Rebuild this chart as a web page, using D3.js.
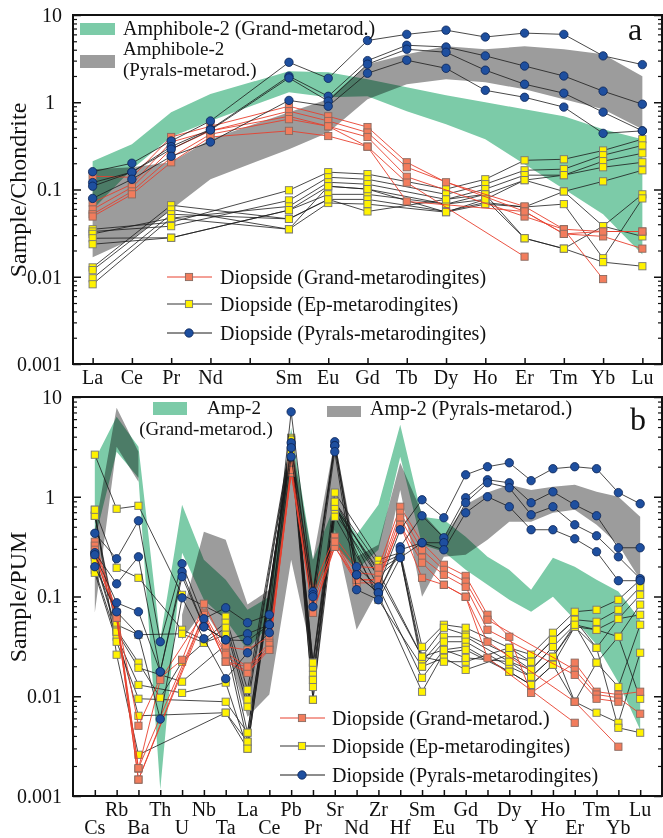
<!DOCTYPE html>
<html><head><meta charset="utf-8">
<script src="https://cdn.jsdelivr.net/npm/d3@7/dist/d3.min.js"></script>
<style>
body{margin:0;background:#fff}
text{font-family:"Liberation Serif","Times New Roman",serif;fill:#111}
</style>
</head><body>
<svg id="chart" width="663" height="838"></svg>
<script>
// ---------------- Panel a : chondrite-normalised REE ----------------
const axisElementsA = ["La","Ce","Pr","Nd","Pm","Sm","Eu","Gd","Tb","Dy","Ho","Er","Tm","Yb","Lu"];
const elementsA = ["La","Ce","Pr","Nd","Sm","Eu","Gd","Tb","Dy","Ho","Er","Tm","Yb","Lu"];
const yTicks = [0.001, 0.01, 0.1, 1, 10];

const pyralsA = [
  [0.16,0.20,0.36,0.61,2.87,1.88,5.1,6.0,6.7,5.6,6.2,6.0,3.4,2.7],
  [0.12,0.158,0.31,0.49,1.99,1.17,3.0,4.5,4.3,3.4,2.6,2.0,1.34,0.95],
  [0.109,0.158,0.29,0.48,1.9,1.03,2.73,4.05,3.74,2.33,1.61,1.27,0.77,0.47],
  [0.079,0.131,0.24,0.35,1.05,0.90,2.15,3.03,2.45,1.37,1.14,0.88,0.44,0.47]
];
const grandA = [
  [0.142,0.138,0.40,0.53,0.90,0.69,0.52,0.205,0.121,null,0.064,0.035,0.033,0.033],
  [0.071,0.115,0.35,0.47,0.79,0.61,0.45,0.18,null,null,0.056,0.031,0.029,0.021],
  [0.059,0.106,0.29,0.47,0.69,0.53,0.40,0.14,null,null,0.049,0.035,0.0094,null],
  [0.052,0.095,0.234,0.43,0.64,0.53,0.31,0.12,null,null,0.017,null,null,null],
  [0.049,0.088,0.205,0.40,0.47,0.41,0.31,0.073,null,null,0.056,0.031,0.033,0.033]
];
const epA = [
  [0.035,null,0.042,null,0.098,0.158,0.150,null,0.101,0.131,0.216,0.222,0.28,0.377],
  [0.033,null,0.038,null,0.075,0.138,0.131,null,0.088,0.115,0.166,0.171,0.247,0.32],
  [0.031,null,0.047,null,0.064,0.121,0.115,null,0.077,0.101,0.146,0.146,0.211,0.26],
  [0.0276,null,0.028,null,0.058,0.109,0.101,null,0.068,0.088,0.128,0.146,0.18,0.205],
  [0.0236,null,0.028,null,0.058,0.088,0.088,null,0.068,0.077,0.128,0.095,0.124,0.166],
  [0.0128,null,0.066,null,0.046,0.077,0.077,null,0.056,0.071,0.063,0.095,0.038,0.088],
  [0.0119,null,0.059,null,0.035,0.070,0.068,null,0.055,0.068,0.063,0.068,0.0163,0.079],
  [0.0096,null,0.052,null,0.046,0.077,0.056,null,0.077,0.088,0.0276,0.021,0.0147,0.0132],
  [0.0082,null,0.047,null,0.035,0.109,0.101,null,0.055,0.077,0.0276,0.021,0.038,0.029]
];
const amphGrandA_hi = [0.211,0.33,0.77,1.24,2.27,2.21,1.83,1.49,1.20,1.0,0.83,0.69,0.49,0.377];
const amphGrandA_lo = [0.059,0.171,0.40,0.61,1.30,1.14,1.17,0.79,0.56,0.377,0.195,0.101,0.052,0.018];
const amphPyralsA_hi = [0.171,0.18,0.205,0.377,0.77,1.08,2.73,3.55,4.38,4.05,4.38,4.05,3.55,1.99];
const amphPyralsA_lo = [0.0167,0.0269,0.059,0.131,0.29,0.45,1.08,1.61,1.83,1.69,1.41,1.08,0.83,0.49];

// ---------------- Panel b : PUM-normalised trace elements ----------------
const elementsB = ["Cs","Rb","Ba","Th","U","Nb","Ta","La","Ce","Pb","Pr","Sr","Nd","Zr","Hf","Sm","Eu","Gd","Tb","Dy","Y","Ho","Er","Tm","Yb","Lu"];
const pyralsB = [
  [0.43,0.239,0.574,0.0352,0.213,0.0598,0.0771,0.0546,0.0656,7.1,0.112,3.56,0.199,0.125,0.467,0.933,0.616,1.66,2.0,2.19,1.45,1.91,2.0,1.91,1.10,0.851],
  [0.275,0.134,0.25,0.0176,0.177,0.0497,0.0368,0.0423,0.0521,3.48,0.104,3.25,0.165,0.109,0.315,0.645,0.388,0.977,1.48,1.38,0.871,1.12,0.831,0.645,0.308,0.308],
  [0.262,0.0866,0.0703,0.0176,0.158,0.0497,0.0368,0.036,0.0521,3.10,0.0994,3.25,0.165,0.109,0.294,0.346,0.346,0.871,1.38,1.23,0.66,0.794,0.524,0.406,0.25,0.151],
  [0.199,0.0703,0.0414,0.0059,0.097,0.0377,0.015,0.0273,0.0433,2.52,0.0789,2.83,0.117,0.0927,0.245,0.346,0.294,0.691,1.0,0.794,0.467,0.467,0.379,0.281,0.144,0.144]
];
const grandB = [
  [0.354,0.0687,0.00506,0.0153,0.0232,0.0846,0.0313,0.0292,0.0395,2.09,0.122,0.397,0.199,0.194,0.794,0.346,0.208,0.161,0.0656,0.0395,0.0108,null,0.0217,0.0111,0.0104,0.0111],
  [0.323,0.0687,0.00188,0.0146,null,0.0687,0.0273,0.0198,0.0344,1.86,0.0994,0.354,0.173,0.165,0.691,0.294,0.185,0.141,0.0585,null,null,null,0.0184,0.0104,0.00966,0.00668],
  [0.294,0.0612,0.00146,null,null,0.0598,0.0261,0.0172,0.0328,1.74,0.0866,0.315,0.147,0.147,0.616,0.245,0.165,0.125,0.0464,null,null,null,0.0164,0.00944,0.00881,null],
  [0.262,0.0612,0.00146,null,null,0.0656,0.0222,0.0172,0.0292,1.74,0.0687,0.315,0.137,0.137,0.524,0.218,0.131,0.0994,0.0352,null,null,null,0.00881,null,0.00312,null],
  [0.262,0.0612,0.0019,null,null,0.0656,0.0222,0.0198,0.0292,1.86,0.0687,0.354,0.147,0.147,0.524,0.154,0.131,0.0994,0.0243,null,null,null,0.00542,null,null,null]
];
const epB = [
  [2.64,0.758,0.812,null,0.104,null,0.0627,0.0116,null,3.90,0.0217,1.10,null,0.233,0.275,0.0313,0.0521,0.0486,null,0.0306,0.0261,0.0433,0.0703,0.0736,0.0927,0.147],
  [0.741,0.194,0.154,null,0.0464,0.0368,0.0546,0.00923,null,3.73,0.0193,0.891,null,0.208,0.262,0.0249,0.0486,0.0414,null,0.0261,0.0222,0.0368,0.0585,0.0558,0.0736,0.125],
  [0.645,0.0521,0.0414,null,0.0423,0.0344,0.0486,0.00785,null,3.56,0.0164,0.794,null,0.185,0.25,0.0222,0.0395,0.0395,null,0.0222,0.0184,0.0313,0.0521,0.0464,0.0598,0.104],
  [0.25,0.0464,0.0217,0.00966,0.0222,0.0344,0.0414,0.00431,null,3.32,0.0146,0.691,null,0.158,0.25,0.0198,0.0352,0.0352,null,0.0198,0.0157,0.0249,0.0497,0.0464,0.0395,0.0829],
  [0.233,0.0444,0.0193,null,0.014,null,0.0328,0.0035,null,3.17,0.0124,0.794,null,0.125,null,0.0153,0.0292,0.0313,null,0.0176,0.013,0.0207,0.0497,0.0306,0.0598,0.0656],
  [0.185,0.0395,0.013,null,0.0108,null,0.0137,0.00298,null,2.96,0.00923,0.63,null,0.104,null,0.0111,0.0273,0.0292,null,0.0176,0.013,0.0207,0.00881,0.0217,0.0124,0.0521],
  [0.173,0.0352,0.00944,null,null,null,0.00881,0.00431,null,3.17,0.0217,0.831,null,0.0927,null,0.0198,0.0243,0.0184,null,0.0261,0.0184,0.0313,0.00881,0.00684,0.00542,0.0273],
  [0.645,0.0444,0.00637,null,null,null,0.00684,0.0035,null,3.56,0.0146,0.794,null,0.177,null,0.0249,0.0222,0.0222,null,0.0306,0.0222,0.0368,0.0585,0.0306,0.00483,0.00431],
  [0.741,0.0261,0.00259,null,null,null,0.00684,0.00298,null,3.73,0.00923,0.891,null,0.158,null,0.0249,0.0292,0.0243,null,0.0222,0.0157,0.0249,0.0521,0.0217,0.0395,0.00944]
];
const ampGrandB_hi = [2.35,6.34,3.17,0.037,0.831,0.233,0.147,0.0736,0.0994,4.92,0.233,0.831,0.416,0.831,5.27,0.63,0.588,0.397,0.25,0.185,0.117,0.245,0.199,0.147,0.112,0.0585];
const ampGrandB_lo = [0.371,2.83,1.55,0.00116,0.275,0.0927,0.0585,0.0292,0.0521,1.86,0.0927,0.33,0.185,0.294,2.52,0.33,0.281,0.185,0.131,0.0927,0.0703,0.0994,0.0585,0.0328,0.0137,0.00461];
const ampPyralsB_hi = [0.467,7.8,2.83,null,0.0656,0.446,0.371,0.0829,0.117,3.73,0.233,3.73,0.25,0.33,2.19,0.691,0.397,0.831,1.10,1.32,1.17,1.26,1.32,1.12,1.0,0.63];
const ampPyralsB_lo = [0.0687,3.17,1.41,null,0.0368,0.0736,0.0328,0.00622,0.0104,0.233,0.0232,0.467,0.0464,0.117,1.17,0.0994,0.25,0.262,0.371,0.561,0.561,0.691,0.741,0.524,0.33,0.147];

// ---------------- styles ----------------
const C = {
  green:"#7ccba8", gray:"#9c9c9c",
  redLine:"#e8402e", redFill:"#f27c5c", redStroke:"#8a6a60",
  yelFill:"#fff200", yelStroke:"#777",
  blueFill:"#1e4f9f", blueStroke:"#0b2457",
  black:"#1a1a1a"
};

const svg = d3.select("#chart");
const L = 73, R = 662;

function minorTicks(){
  const out=[];
  [0.001,0.01,0.1,1].forEach(d=>{for(let k=2;k<=9;k++) out.push(d*k);});
  return out;
}

function drawPanel(o){
  const g = svg.append("g");
  const x = d3.scalePoint().domain(o.axisElements).range([L,R]).padding(o.pad);
  const y = d3.scaleLog().domain([0.001,10]).range([o.bottom,o.top]);

  // bands
  const bandG = g.append("g").style("isolation","isolate");
  o.bands.forEach(b=>{
    const pts = o.elements.map((e,i)=>({e, lo:b.lo[i], hi:b.hi[i]}));
    const area = d3.area().defined(d=>d.lo!=null && d.hi!=null)
      .x(d=>x(d.e)).y0(d=>y(d.lo)).y1(d=>y(d.hi));
    bandG.append("path").attr("d",area(pts)).attr("fill",b.color)
      .style("mix-blend-mode","multiply");
  });

  // series
  const line = d3.line().x(d=>x(d.e)).y(d=>y(d.v));
  o.groups.forEach(grp=>{
    const gg = g.append("g");
    grp.data.forEach(row=>{
      const pts = o.elements.map((e,i)=>({e,v:row[i]})).filter(d=>d.v!=null);
      gg.append("path").attr("d",line(pts)).attr("fill","none")
        .attr("stroke",grp.line).attr("stroke-width",grp.lw);
    });
    grp.data.forEach(row=>{
      const pts = o.elements.map((e,i)=>({e,v:row[i]})).filter(d=>d.v!=null);
      pts.forEach(d=>drawMarker(gg, grp.marker, x(d.e), y(d.v)));
    });
  });

  // axes: left (inward ticks)
  const yMajLeft = d3.axisLeft(y).tickValues(yTicks).tickSizeInner(-8).tickSizeOuter(0)
    .tickPadding(11).tickFormat(d=>String(d));
  const ax1 = g.append("g").attr("transform",`translate(${L},0)`).call(yMajLeft);
  ax1.select(".domain").remove();
  ax1.attr("font-family",null);
  ax1.selectAll("text").style("font-size","20px").attr("fill","#111");
  ax1.selectAll("text").filter(d=>d===1).attr("dx",-7);
  ax1.selectAll("line").attr("stroke","#111").attr("stroke-width",1.5);
  const yMinLeft = d3.axisLeft(y).tickValues(minorTicks()).tickSizeInner(-4).tickSizeOuter(0).tickFormat("");
  const ax2 = g.append("g").attr("transform",`translate(${L},0)`).call(yMinLeft);
  ax2.select(".domain").remove();
  ax2.selectAll("line").attr("stroke","#111").attr("stroke-width",1.2);
  // right
  const yMajR = d3.axisRight(y).tickValues(yTicks).tickSizeInner(-8).tickSizeOuter(0).tickFormat("");
  const ax3 = g.append("g").attr("transform",`translate(${R},0)`).call(yMajR);
  ax3.select(".domain").remove();
  ax3.selectAll("line").attr("stroke","#111").attr("stroke-width",1.5);
  const yMinR = d3.axisRight(y).tickValues(minorTicks()).tickSizeInner(-4).tickSizeOuter(0).tickFormat("");
  const ax4 = g.append("g").attr("transform",`translate(${R},0)`).call(yMinR);
  ax4.select(".domain").remove();
  ax4.selectAll("line").attr("stroke","#111").attr("stroke-width",1.2);
  // bottom
  const xAx = d3.axisBottom(x).tickSizeInner(-6).tickSizeOuter(0).tickFormat("");
  const ax5 = g.append("g").attr("transform",`translate(0,${o.bottom})`).call(xAx);
  ax5.select(".domain").remove();
  ax5.selectAll("line").attr("stroke","#111").attr("stroke-width",1.5);
  // category labels
  o.axisElements.forEach((e,i)=>{
    const lab = o.labelOf(e,i);
    if(!lab.text) return;
    g.append("text").attr("x",x(e)).attr("y",lab.y).attr("text-anchor","middle")
      .style("font-size","20px").text(lab.text);
  });
  // frame
  g.append("rect").attr("x",L).attr("y",o.top).attr("width",R-L).attr("height",o.bottom-o.top)
    .attr("fill","none").attr("stroke","#111").attr("stroke-width",2);
  // y title
  g.append("text").attr("transform",`translate(${o.titleX},${o.titleY}) rotate(-90)`)
    .attr("text-anchor","middle").style("font-size","24px").text(o.title);
  return {x,y,g};
}

function drawMarker(sel, type, cx, cy){
  if(type==="red"){
    sel.append("rect").attr("x",cx-3.6).attr("y",cy-3.6).attr("width",7.2).attr("height",7.2)
      .attr("fill",C.redFill).attr("stroke",C.redStroke).attr("stroke-width",0.9);
  } else if(type==="yel"){
    sel.append("rect").attr("x",cx-3.6).attr("y",cy-3.6).attr("width",7.2).attr("height",7.2)
      .attr("fill",C.yelFill).attr("stroke",C.yelStroke).attr("stroke-width",0.9);
  } else {
    sel.append("circle").attr("cx",cx).attr("cy",cy).attr("r",4.2)
      .attr("fill",C.blueFill).attr("stroke",C.blueStroke).attr("stroke-width",0.8);
  }
}

const groupsA = [
  {data:epA, line:C.black, lw:0.8, marker:"yel"},
  {data:grandA, line:C.redLine, lw:0.9, marker:"red"},
  {data:pyralsA, line:C.black, lw:0.8, marker:"blue"}
];
const pA = drawPanel({
  axisElements:axisElementsA, elements:elementsA, pad:0.5, top:15, bottom:364,
  bands:[{lo:amphPyralsA_lo,hi:amphPyralsA_hi,color:C.gray},{lo:amphGrandA_lo,hi:amphGrandA_hi,color:C.green}],
  groups:groupsA,
  labelOf:(e,i)=>({text:e==="Pm"?"":e, y:384}),
  title:"Sample/Chondrite", titleX:26, titleY:190
});

const groupsB = [
  {data:epB, line:C.black, lw:0.8, marker:"yel"},
  {data:grandB, line:C.redLine, lw:0.9, marker:"red"},
  {data:pyralsB, line:C.black, lw:0.8, marker:"blue"}
];
const pB = drawPanel({
  axisElements:elementsB, elements:elementsB, pad:1, top:397, bottom:796,
  bands:[{lo:ampPyralsB_lo,hi:ampPyralsB_hi,color:C.gray},{lo:ampGrandB_lo,hi:ampGrandB_hi,color:C.green}],
  groups:groupsB,
  labelOf:(e,i)=>({text:e, y: i%2===0 ? 834 : 816}),
  title:"Sample/PUM", titleX:26, titleY:597
});

// ---------------- legends ----------------
function legendRows(g, rows, x0, x1, xm, xt){
  rows.forEach(r=>{
    g.append("line").attr("x1",x0).attr("x2",x1).attr("y1",r.y).attr("y2",r.y)
      .attr("stroke",r.line).attr("stroke-width",1);
    drawMarker(g, r.marker, xm, r.y);
    g.append("text").attr("x",xt).attr("y",r.y+7).style("font-size","20px").text(r.text);
  });
}
const lg = svg.append("g");
// panel a band legend
lg.append("rect").attr("x",80).attr("y",23).attr("width",35).attr("height",12).attr("fill",C.green);
lg.append("text").attr("x",123).attr("y",35).style("font-size","20px").text("Amphibole-2 (Grand-metarod.)");
lg.append("rect").attr("x",80).attr("y",55).attr("width",35).attr("height",13).attr("fill",C.gray);
lg.append("text").attr("x",123).attr("y",55).style("font-size","19px").text("Amphibole-2");
lg.append("text").attr("x",123).attr("y",76).style("font-size","19px").text("(Pyrals-metarod.)");
lg.append("text").attr("x",628).attr("y",40).style("font-size","32px").text("a");
legendRows(lg,[
  {y:277,line:C.redLine,marker:"red",text:"Diopside (Grand-metarodingites)"},
  {y:304,line:"#333",marker:"yel",text:"Diopside (Ep-metarodingites)"},
  {y:333,line:C.black,marker:"blue",text:"Diopside (Pyrals-metarodingites)"}
],167,212,189,220);

// panel b band legend
lg.append("rect").attr("x",153).attr("y",402).attr("width",34).attr("height",13).attr("fill",C.green);
lg.append("text").attr("x",234).attr("y",414).attr("text-anchor","middle").style("font-size","19px").text("Amp-2");
lg.append("text").attr("x",206).attr("y",435).attr("text-anchor","middle").style("font-size","19px").text("(Grand-metarod.)");
lg.append("rect").attr("x",327).attr("y",406).attr("width",34).attr("height",11).attr("fill",C.gray);
lg.append("text").attr("x",370).attr("y",415).style("font-size","20px").text("Amp-2 (Pyrals-metarod.)");
lg.append("text").attr("x",630).attr("y",430).style("font-size","32px").text("b");
legendRows(lg,[
  {y:718,line:C.redLine,marker:"red",text:"Diopside (Grand-metarod.)"},
  {y:746,line:"#333",marker:"yel",text:"Diopside (Ep-metarodingites)"},
  {y:775,line:C.black,marker:"blue",text:"Diopside (Pyrals-metarodingites)"}
],280,325,302,332);
</script>
</body></html>
